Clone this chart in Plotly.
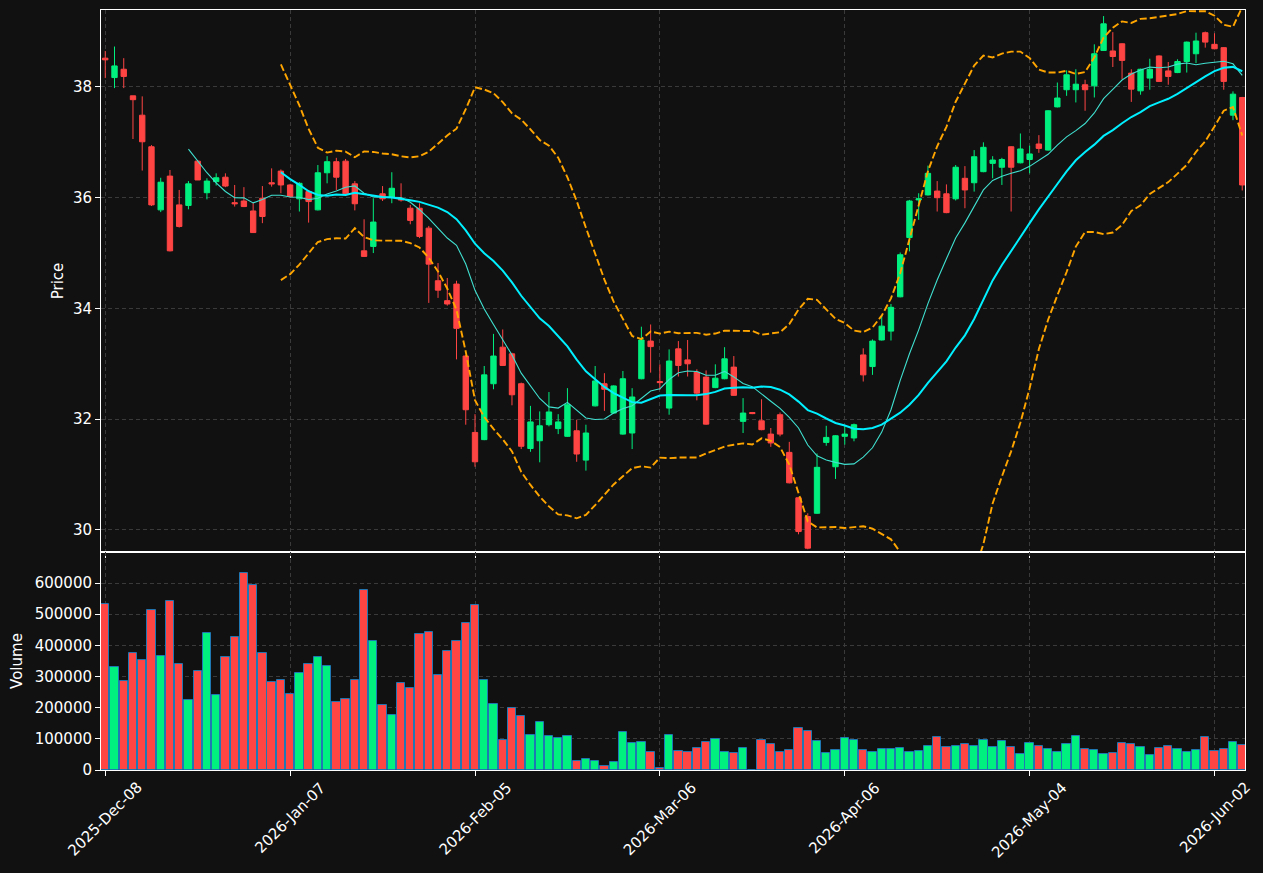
import pandas as pd
import numpy as np
import plotly.graph_objects as go
from plotly.subplots import make_subplots
from pandas.tseries.offsets import CustomBusinessDay

START_DATE = "2025-12-08"
HOLIDAYS = ["2025-12-25", "2026-01-01", "2026-01-19", "2026-02-16", "2026-04-03", "2026-05-25"]

OPEN = [38.52, 38.17, 38.32, 37.84, 37.49, 36.92, 35.78, 36.39, 35.87, 35.86,
        36.66, 36.09, 36.29, 36.37, 35.91, 35.94, 35.76, 35.99, 36.27, 36.48,
        36.23, 35.98, 36.11, 35.78, 36.45, 36.65, 36.66, 36.25, 35.04, 35.12,
        36.07, 36.01, 35.98, 35.81, 35.81, 35.45, 34.50, 34.14, 34.44, 33.14,
        31.76, 31.63, 32.64, 33.30, 33.18, 32.64, 31.47, 31.61, 31.90, 31.83,
        31.69, 31.79, 31.26, 32.24, 32.64, 32.11, 31.73, 31.75, 32.73, 33.41,
        32.68, 32.20, 33.27, 33.07, 32.85, 32.76, 32.57, 32.73, 32.94, 31.96,
        32.12, 31.97, 31.73, 32.08, 31.40, 30.58, 30.24, 30.30, 31.58, 31.14,
        31.69, 31.66, 33.16, 32.95, 33.43, 33.59, 34.21, 35.28, 35.96, 36.05,
        36.12, 36.07, 35.98, 36.35, 36.27, 36.47, 36.62, 36.55, 36.92, 36.63,
        36.69, 36.97, 36.86, 37.64, 37.95, 37.95, 38.04, 38.02, 38.66, 38.65,
        38.78, 38.25, 37.93, 38.16, 38.56, 38.29, 38.26, 38.46, 38.60, 38.98,
        38.77, 38.71, 37.49, 37.81]
HIGH = [38.65, 38.73, 38.52, 37.84, 37.83, 36.95, 36.36, 36.50, 36.14, 36.30,
        36.68, 36.35, 36.44, 36.44, 36.23, 36.19, 35.91, 36.21, 36.53, 36.51,
        36.25, 36.28, 36.14, 36.59, 36.75, 36.72, 36.70, 36.30, 35.61, 35.99,
        36.21, 36.46, 36.26, 35.87, 35.90, 35.49, 34.82, 34.55, 34.50, 33.16,
        32.09, 32.96, 33.54, 33.62, 33.20, 32.66, 32.24, 32.14, 32.49, 32.09,
        32.56, 31.99, 31.90, 32.96, 32.83, 32.61, 32.87, 32.56, 33.67, 33.71,
        32.99, 33.26, 33.41, 33.43, 32.90, 32.88, 32.99, 33.30, 33.14, 32.38,
        32.13, 32.36, 31.84, 32.12, 31.59, 30.59, 30.30, 31.38, 31.88, 31.71,
        31.87, 31.92, 33.28, 33.44, 33.88, 34.08, 35.01, 35.96, 36.08, 36.58,
        36.30, 36.24, 36.59, 36.57, 36.86, 37.00, 36.75, 36.72, 36.93, 37.16,
        36.94, 37.13, 37.58, 38.08, 38.30, 38.32, 38.13, 38.77, 39.28, 38.99,
        38.79, 38.32, 38.33, 38.51, 38.57, 38.45, 38.50, 38.82, 38.98, 39.00,
        38.97, 38.72, 37.92, 37.82]
LOW = [38.16, 37.98, 37.98, 37.06, 36.49, 35.85, 35.74, 35.03, 35.46, 35.79,
       36.32, 35.97, 36.22, 36.19, 35.84, 35.83, 35.37, 35.54, 36.20, 36.08,
       36.00, 35.75, 35.55, 35.77, 36.26, 36.14, 36.05, 35.77, 34.93, 35.00,
       35.94, 35.90, 35.93, 35.52, 35.27, 34.10, 34.19, 34.05, 33.08, 31.90,
       31.14, 31.62, 32.54, 32.96, 32.25, 31.46, 31.41, 31.22, 31.87, 31.73,
       31.68, 31.23, 31.07, 32.23, 32.15, 32.10, 31.72, 31.46, 32.72, 32.84,
       32.53, 32.08, 32.77, 32.77, 32.34, 31.90, 32.56, 32.72, 32.42, 31.75,
       32.09, 31.80, 31.50, 31.69, 30.84, 29.92, 29.65, 30.29, 31.52, 30.92,
       31.54, 31.60, 32.68, 32.80, 33.42, 33.42, 34.20, 35.03, 35.60, 36.04,
       35.75, 35.72, 35.95, 35.81, 36.11, 36.46, 36.35, 36.23, 35.75, 36.62,
       36.44, 36.81, 36.85, 37.63, 37.84, 37.72, 37.57, 37.81, 38.65, 38.36,
       38.14, 37.73, 37.86, 37.95, 38.09, 38.04, 38.25, 38.26, 38.43, 38.71,
       38.68, 37.95, 37.40, 36.13]
CLOSE = [38.49, 38.38, 38.19, 37.77, 37.01, 35.87, 36.28, 35.04, 35.48, 36.25,
         36.32, 36.30, 36.36, 36.21, 35.89, 35.84, 35.37, 35.66, 36.25, 36.23,
         36.02, 36.26, 35.93, 36.45, 36.65, 36.37, 36.07, 35.89, 34.94, 35.56,
         35.98, 36.17, 35.96, 35.59, 35.30, 34.80, 34.33, 34.08, 33.64, 32.17,
         31.23, 32.80, 33.14, 32.97, 32.44, 31.51, 31.95, 31.88, 32.13, 31.95,
         32.26, 31.37, 31.75, 32.69, 32.54, 32.60, 32.73, 32.40, 33.43, 33.31,
         32.66, 33.05, 32.97, 33.00, 32.47, 31.91, 32.74, 33.09, 32.43, 32.11,
         32.10, 31.81, 31.57, 31.73, 30.85, 29.97, 29.67, 31.13, 31.67, 31.70,
         31.73, 31.90, 32.80, 33.41, 33.68, 34.02, 34.97, 35.94, 35.98, 36.44,
         36.00, 35.73, 36.55, 36.14, 36.74, 36.91, 36.68, 36.69, 36.55, 36.88,
         36.79, 36.89, 37.57, 37.80, 38.22, 38.05, 37.95, 38.60, 39.14, 38.55,
         38.48, 37.96, 38.32, 38.32, 38.10, 38.19, 38.46, 38.81, 38.83, 38.81,
         38.69, 38.10, 37.87, 36.23]
VOLUME = [531600, 329400, 284500, 374300, 351900, 512300, 364700, 541200, 339100, 223600,
          316600, 438500, 239600, 361500, 425700, 631000, 592500, 374300, 281300, 287800,
          242800, 310200, 339100, 361500, 332700, 217200, 226800, 287800, 576500, 412900,
          207600, 175500, 278100, 262100, 435300, 441800, 303800, 380800, 412900, 470600,
          528400, 287800, 210800, 96200, 197900, 172300, 111300, 153000, 108100, 101700,
          108100, 27900, 34300, 27900, 11900, 24700, 120900, 85600, 88900, 56800,
          5500, 111300, 60000, 56800, 69600, 88900, 98500, 56800, 53600, 69600,
          1500, 95300, 82400, 56800, 63200, 133800, 124100, 92100, 53600, 63200,
          101700, 95300, 63200, 56800, 66400, 66400, 69600, 56800, 60000, 76000,
          104900, 72800, 76000, 82400, 76000, 95300, 72800, 92100, 72800, 50400,
          85600, 76000, 66400, 56800, 82400, 108100, 66400, 63200, 50400, 53600,
          85600, 82400, 72800, 47200, 69600, 76000, 66400, 56800, 63200, 104900,
          60000, 66400, 88900, 79200]

UP_COLOR = "#00f07f"
DOWN_COLOR = "#ff4444"
BG = "#111111"
FONT = "DejaVu Sans"
FS = 15

n = len(CLOSE)
cbd = CustomBusinessDay(holidays=HOLIDAYS)
dates = pd.date_range(START_DATE, periods=n, freq=cbd)
idx = np.arange(n)

close_s = pd.Series(CLOSE)
ma10 = close_s.rolling(10).mean()
ma20 = close_s.rolling(20).mean()
sd20 = close_s.rolling(20).std(ddof=0)
upper = ma20 + 2 * sd20
lower = ma20 - 2 * sd20

tick_idx = list(range(0, n, 20))
tick_txt = [dates[i].strftime("%Y-%b-%d") for i in tick_idx]

vol_colors = [UP_COLOR if c >= o else DOWN_COLOR for o, c in zip(OPEN, CLOSE)]

fig = make_subplots(rows=2, cols=1, shared_xaxes=True, vertical_spacing=0,
                    row_heights=[0.7132, 0.2868])

fig.add_trace(go.Candlestick(
    x=idx, open=OPEN, high=HIGH, low=LOW, close=CLOSE,
    increasing=dict(line=dict(color=UP_COLOR, width=1), fillcolor=UP_COLOR),
    decreasing=dict(line=dict(color=DOWN_COLOR, width=1), fillcolor=DOWN_COLOR),
    whiskerwidth=0, showlegend=False, name="Price"), row=1, col=1)

fig.add_trace(go.Scatter(x=idx, y=ma10, mode="lines",
                         line=dict(color="#40e0d0", width=1.1), showlegend=False), row=1, col=1)
fig.add_trace(go.Scatter(x=idx, y=ma20, mode="lines",
                         line=dict(color="#00f0ff", width=2), showlegend=False), row=1, col=1)
fig.add_trace(go.Scatter(x=idx, y=upper, mode="lines",
                         line=dict(color="#ffa500", width=1.9, dash="7px,3px"), showlegend=False), row=1, col=1)
fig.add_trace(go.Scatter(x=idx, y=lower, mode="lines",
                         line=dict(color="#ffa500", width=1.9, dash="7px,3px"), showlegend=False), row=1, col=1)

fig.add_trace(go.Bar(x=idx, y=VOLUME, width=0.9,
                     marker=dict(color=vol_colors, line=dict(color="#1f77b4", width=1)),
                     showlegend=False), row=2, col=1)

grid = dict(showgrid=True, gridcolor="#3a3a3a", griddash="4px,3px", gridwidth=1,
            showline=True, linecolor="white", linewidth=1, mirror=True,
            ticks="outside", tickcolor="white", ticklen=5, zeroline=False,
            tickfont=dict(family=FONT, size=FS, color="white"))

fig.update_layout(
    width=1263, height=873,
    margin=dict(l=101, r=18, t=10, b=103),
    paper_bgcolor=BG, plot_bgcolor=BG,
    font=dict(family=FONT, size=FS, color="white"),
    boxgap=0.42, boxgroupgap=0,
    bargap=0,
)
fig.update_xaxes(range=[-0.46, 123.3], tickvals=tick_idx, ticktext=tick_txt,
                 showticklabels=False, **grid)
fig.update_xaxes(rangeslider_visible=False, row=1, col=1)
fig.update_yaxes(range=[29.6, 39.39], dtick=2,
                 title=dict(text="Price", standoff=5, font=dict(family=FONT, size=FS, color="white")),
                 row=1, col=1, **grid)
fig.update_yaxes(range=[0, 699400], tickvals=[0, 100000, 200000, 300000, 400000, 500000, 600000],
                 tickformat="d",
                 title=dict(text="Volume", standoff=8, font=dict(family=FONT, size=FS, color="white")),
                 row=2, col=1, **grid)

for ti, tt in zip(tick_idx, tick_txt):
    fig.add_annotation(x=ti, y=0, xref="x2", yref="y2", text=tt, showarrow=False,
                       textangle=-45, xanchor="center", yanchor="top", yshift=-6,
                       font=dict(family=FONT, size=FS, color="white"))

fig.write_html("out.html")
